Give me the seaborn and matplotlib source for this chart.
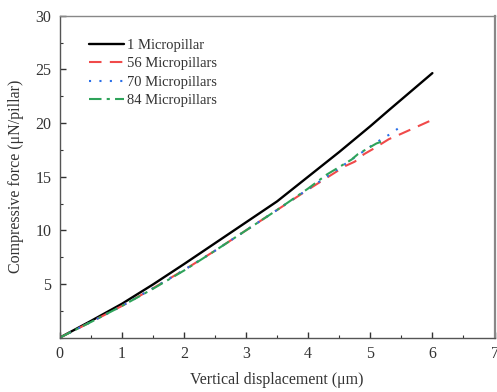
import matplotlib
matplotlib.use("Agg")
import matplotlib.pyplot as plt
import seaborn as sns
from matplotlib.ticker import MultipleLocator

# =========================
# Data
# =========================

x_1 = [0, 0.5, 1, 1.5, 2, 2.5, 3, 3.5, 4, 4.5, 5, 5.3, 6.0]
y_1 = [0, 1.55, 3.15, 4.95, 6.85, 8.8, 10.75, 12.7, 15.0, 17.3, 19.7, 21.2, 24.65]

x_56 = [0, 0.5, 1, 1.5, 2, 2.5, 3, 3.5, 4, 4.3, 4.6, 4.75, 4.9, 5.05, 5.3, 5.5, 6.0]
y_56 = [0, 1.45, 2.95, 4.6, 6.3, 8.1, 10.0, 11.9, 13.8, 14.9, 16.0, 16.4, 17.1, 17.6, 18.5, 19.0, 20.3]

x_70 = [0, 0.5, 1, 1.5, 2, 2.5, 3, 3.5, 4, 4.3, 4.6, 4.9, 5.1, 5.3, 5.45]
y_70 = [0, 1.45, 2.95, 4.6, 6.3, 8.1, 10.0, 11.9, 13.85, 15.0, 16.2, 17.4, 18.2, 18.9, 19.5]

x_84 = [0, 0.5, 1, 1.5, 2, 2.5, 3, 3.5, 4, 4.3, 4.5, 4.7, 4.8, 4.95, 5.1, 5.25]
y_84 = [0, 1.45, 2.95, 4.55, 6.25, 8.1, 10.0, 11.9, 13.9, 15.2, 15.9, 16.6, 17.1, 17.6, 18.1, 18.4]

labels = ["1 Micropillar", "56 Micropillars", "70 Micropillars", "84 Micropillars"]

# =========================
# Style
# =========================

sns.set_style("ticks")
plt.rcParams['font.family'] = ['Liberation Serif', 'DejaVu Serif']

fig = plt.figure(figsize=(4.97, 3.92), dpi=100)
ax = fig.add_axes([0.12, 0.1385, 0.875, 0.8215])

# =========================
# Lines
# =========================

sns.lineplot(x=x_1, y=y_1, ax=ax, color="black", linewidth=1.7,
             label=labels[0], sort=False)
sns.lineplot(x=x_56, y=y_56, ax=ax, color="#f04a4a", linewidth=1.5,
             linestyle=(0, (6, 4)), label=labels[1], sort=False)
sns.lineplot(x=x_70, y=y_70, ax=ax, color="#2a6fe8", linewidth=1.5,
             linestyle=(0, (1, 4)), label=labels[2], sort=False)
sns.lineplot(x=x_84, y=y_84, ax=ax, color="#2ea35a", linewidth=1.5,
             linestyle=(0, (6, 2.5, 1.5, 2.5)), label=labels[3], sort=False)

# =========================
# Axes
# =========================

ax.set_xlim(0, 7)
ax.set_ylim(0, 30)
ax.set_xticks(range(0, 8))
ax.set_yticks([5, 10, 15, 20, 25, 30])
ax.xaxis.set_minor_locator(MultipleLocator(0.5))
ax.yaxis.set_minor_locator(MultipleLocator(2.5))

ax.tick_params(which="major", direction="in", length=4, width=1,
               labelsize=11.5, color="#333333", labelcolor="#333333", pad=6)
ax.tick_params(which="minor", direction="in", length=2.5, width=0.8,
               color="#333333")

for side in ["left", "bottom", "top", "right"]:
    ax.spines[side].set_visible(True)
    ax.spines[side].set_color("#555555")
    ax.spines[side].set_linewidth(1.0)
ax.spines["right"].set_linewidth(1.6)
ax.spines["right"].set_color("#888888")
ax.spines["top"].set_color("#888888")

ax.set_xlabel("Vertical displacement (μm)", fontsize=11.5, color="#333333", labelpad=7)
ax.set_ylabel("Compressive force (μN/pillar)", fontsize=11.5, color="#333333", labelpad=8)

leg = ax.legend(loc="upper left", frameon=False, fontsize=10.5,
                handlelength=2.4, handletextpad=0.2, labelspacing=0.35,
                bbox_to_anchor=(0.038, 0.969))
for t in leg.get_texts():
    t.set_color("#333333")

fig.savefig("out.png", dpi=100)
